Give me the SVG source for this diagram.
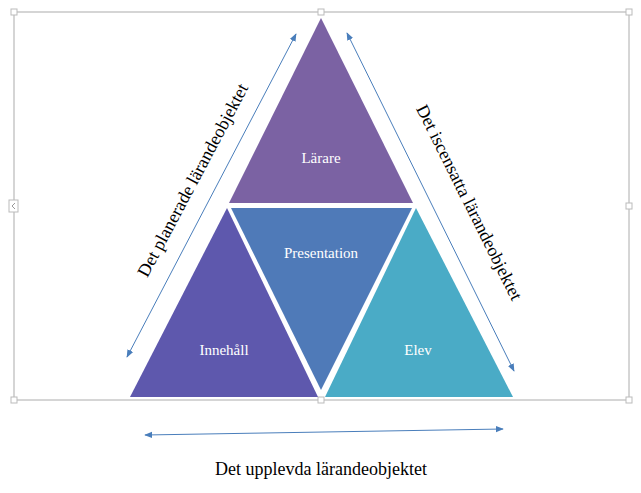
<svg xmlns="http://www.w3.org/2000/svg" width="641" height="493" viewBox="0 0 641 493">
<style>
.lbl{font-family:"Liberation Serif",serif;font-size:15px;fill:#fff;text-anchor:middle}
.cap{font-family:"Liberation Serif",serif;font-size:18px;fill:#000;text-anchor:middle}
.conn{stroke:#4a7ebb;stroke-width:1;fill:none;marker-start:url(#ah);marker-end:url(#ah)}
.h{fill:#fff;stroke:#bbb;stroke-width:1}
</style>
<defs><marker id="ah" viewBox="0 0 10 10" refX="9" refY="5" markerWidth="8" markerHeight="8" orient="auto-start-reverse" markerUnits="userSpaceOnUse"><path d="M0,1 L10,5 L0,9 Z" fill="#4a7ebb"/></marker></defs>
<rect width="641" height="493" fill="#fff"/>
<g id="frame">
<rect x="14" y="12" width="615" height="388" fill="none" stroke="#c8c8c8" stroke-width="1.5"/>
<rect class="h" x="11" y="9" width="6" height="6"/><rect class="h" x="318" y="9" width="6" height="6"/><rect class="h" x="626" y="9" width="6" height="6"/>
<rect class="h" x="9" y="200" width="9" height="12"/><path d="M15,203 L12,206 L15,209" stroke="#999" fill="none"/>
<rect class="h" x="626" y="203" width="6" height="6"/>
<rect class="h" x="11" y="397" width="6" height="6"/><rect class="h" x="318" y="397" width="6" height="6"/><rect class="h" x="626" y="397" width="6" height="6"/>
</g>
<g id="larare"><polygon points="321,18 413,203 229,203" fill="#7b62a3"/><text class="lbl" x="321" y="163">Lärare</text></g>
<g id="presentation"><polygon points="231,208 412,208 321,390" fill="#4f7ab8"/><text class="lbl" x="321" y="258">Presentation</text></g>
<g id="innehall"><polygon points="227,208 318,397 130,397" fill="#5e58ad"/><text class="lbl" x="224" y="355">Innehåll</text></g>
<g id="elev"><polygon points="416,208 513,397 325,397" fill="#4aabc6"/><text class="lbl" x="418" y="355">Elev</text></g>
<g id="connectors">
<line class="conn" x1="127" y1="357" x2="296" y2="34"/>
<line class="conn" x1="347" y1="33" x2="514" y2="371"/>
<line class="conn" x1="145" y1="435" x2="503" y2="429"/>
</g>
<g id="captions">
<text class="cap" transform="translate(198,183) rotate(-62)">Det planerade lärandeobjektet</text>
<text class="cap" transform="translate(464,205) rotate(63.5)">Det iscensatta lärandeobjektet</text>
<text class="cap" x="321" y="475">Det upplevda lärandeobjektet</text>
</g>
</svg>
